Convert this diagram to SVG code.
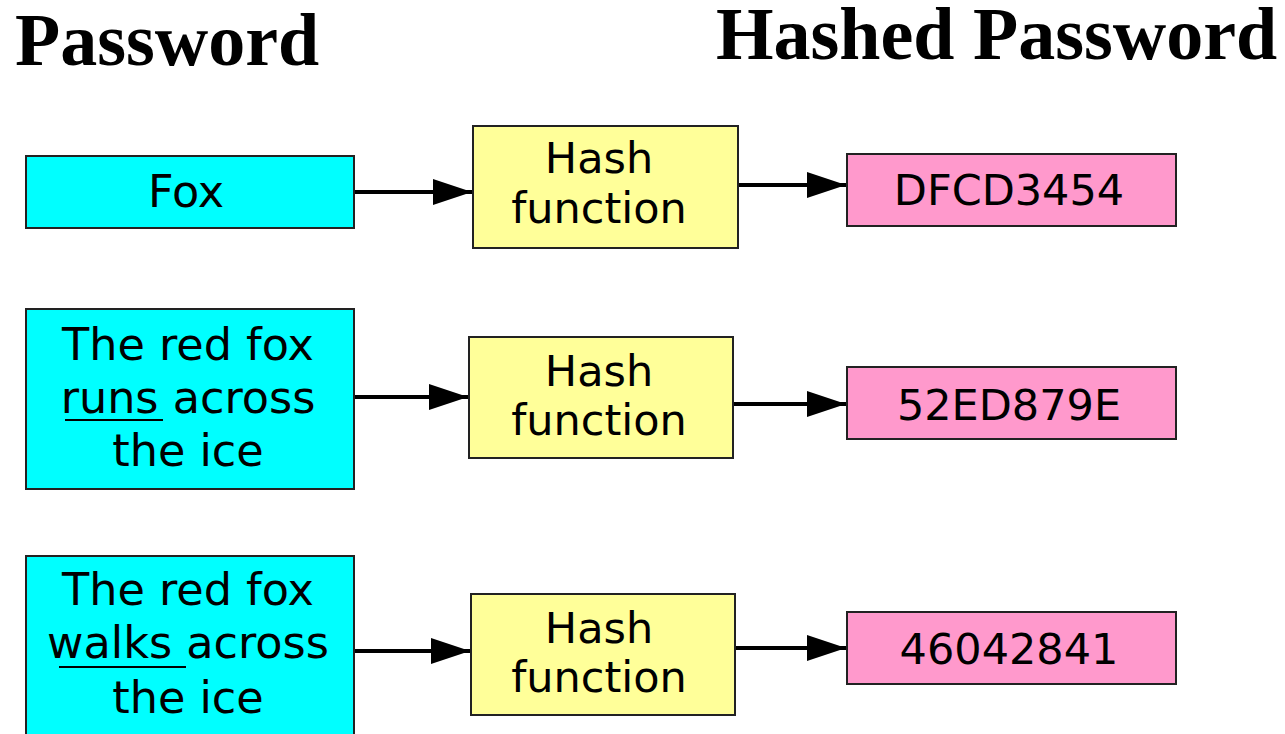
<svg xmlns="http://www.w3.org/2000/svg" width="1285" height="734" viewBox="0 0 1285 734">
<style>
.title{font-family:"Liberation Serif","Times New Roman",serif;font-weight:bold;font-size:74px;fill:#000}
.lbl{font-family:"DejaVu Sans",Verdana,sans-serif;font-size:43px;fill:#000;text-anchor:middle}
.big{font-size:44.5px}
.in{fill:#00ffff;stroke:#222;stroke-width:2}
.hf{fill:#ffff99;stroke:#222;stroke-width:2}
.out{fill:#ff99cc;stroke:#222;stroke-width:2}
.con{stroke:#000;stroke-width:4;fill:none;marker-end:url(#ah)}
.ul{stroke:#000;stroke-width:2}
</style>
<defs>
<marker id="ah" markerUnits="userSpaceOnUse" markerWidth="40" markerHeight="28" refX="39" refY="13" orient="auto">
<path d="M0,0 L39,13 L0,26 Z" fill="#000"/>
</marker>
</defs>
<rect width="1285" height="734" fill="#fff"/>
<text class="title" x="15" y="65">Password</text>
<text class="title" x="716" y="59">Hashed Password</text>

<g id="connectors">
<line class="con" x1="355" y1="192" x2="472" y2="192"/>
<line class="con" x1="739" y1="185" x2="846" y2="185"/>
<line class="con" x1="355" y1="397" x2="468" y2="397"/>
<line class="con" x1="734" y1="404" x2="846" y2="404"/>
<line class="con" x1="355" y1="651" x2="470" y2="651"/>
<line class="con" x1="736" y1="648" x2="846" y2="648"/>
</g>

<g id="in1">
<rect class="in" x="26" y="156" width="328" height="72"/>
<text class="lbl big" x="186" y="207">Fox</text>
</g>
<g id="hash1">
<rect class="hf" x="473" y="126" width="265" height="122"/>
<text class="lbl" x="599" y="173">Hash</text>
<text class="lbl" x="599" y="223">function</text>
</g>
<g id="out1">
<rect class="out" x="847" y="154" width="329" height="72"/>
<text class="lbl" x="1009" y="205">DFCD3454</text>
</g>

<g id="in2">
<rect class="in" x="26" y="309" width="328" height="180"/>
<text class="lbl big" x="188" y="360">The red fox</text>
<text class="lbl big" x="188" y="413">runs across</text>
<text class="lbl big" x="188" y="466">the ice</text>
<line class="ul" x1="65" y1="420" x2="163" y2="420"/>
</g>
<g id="hash2">
<rect class="hf" x="469" y="337" width="264" height="121"/>
<text class="lbl" x="599" y="386">Hash</text>
<text class="lbl" x="599" y="435">function</text>
</g>
<g id="out2">
<rect class="out" x="847" y="367" width="329" height="72"/>
<text class="lbl" x="1009" y="420">52ED879E</text>
</g>

<g id="in3">
<rect class="in" x="26" y="556" width="328" height="190"/>
<text class="lbl big" x="188" y="605">The red fox</text>
<text class="lbl big" x="188" y="658">walks across</text>
<text class="lbl big" x="188" y="713">the ice</text>
<line class="ul" x1="59" y1="667" x2="186" y2="667"/>
</g>
<g id="hash3">
<rect class="hf" x="471" y="594" width="264" height="121"/>
<text class="lbl" x="599" y="643">Hash</text>
<text class="lbl" x="599" y="692">function</text>
</g>
<g id="out3">
<rect class="out" x="847" y="612" width="329" height="72"/>
<text class="lbl" x="1009" y="664">46042841</text>
</g>
</svg>
